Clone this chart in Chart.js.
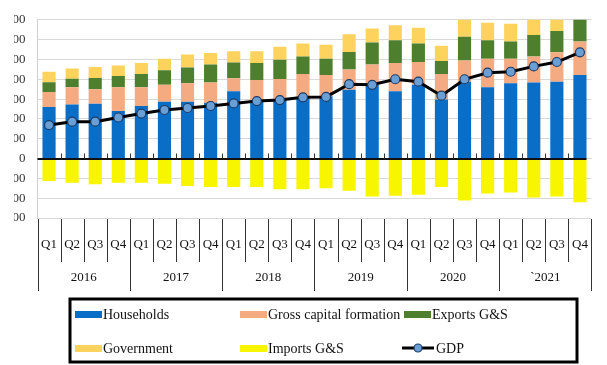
<!DOCTYPE html>
<html>
<head>
<meta charset="utf-8">
<script src="https://cdn.jsdelivr.net/npm/chart.js@4.4.1/dist/chart.umd.min.js"></script>
<style>
  html, body { margin: 0; padding: 0; background: #fff; overflow: hidden; }
  #clip { position: absolute; left: 14px; top: 0; width: 593px; height: 365px; overflow: hidden; }
  #c { position: absolute; left: -14px; top: 0; }
</style>
</head>
<body>
<div id="clip"><canvas id="c" width="607" height="365"></canvas></div>
<script>
// Quarterly contributions, 2016 Q1 – 2021 Q4
const quarters = ['Q1','Q2','Q3','Q4','Q1','Q2','Q3','Q4','Q1','Q2','Q3','Q4',
                  'Q1','Q2','Q3','Q4','Q1','Q2','Q3','Q4','Q1','Q2','Q3','Q4'];
const years = ['2016', '2017', '2018', '2019', '2020', '`2021'];

const households = [260, 273, 276, 240, 265, 286, 286, 281, 339, 295, 298, 311,
                    314, 347, 372, 339, 372, 298, 388, 360, 380, 384, 388, 421];
const capital    = [ 76,  87,  74, 120,  95,  86,  94, 103,  66, 101, 103, 115,
                    107, 102, 103, 143, 115, 128, 107, 143, 123, 131, 148, 170];
const exportsGS  = [ 49,  43,  56,  56,  66,  74,  79,  90,  80,  86,  97,  89,
                     82,  88, 111, 115,  94,  66, 119,  94,  88, 108, 107, 125];
const government = [ 53,  51,  56,  54,  56,  57,  66,  58,  56,  59,  66,  66,
                     71,  90,  70,  76,  79,  77,  95,  88,  89,  85,  80,  75];
const importsGS  = [-113, -122, -130, -122, -122, -127, -138, -143, -143, -143, -155, -155,
                    -150, -163, -192, -188, -183, -143, -212, -176, -171, -196, -192, -221];
const gdp        = [169, 186, 186, 207, 227, 245, 255, 265, 278, 290, 295, 309,
                    311, 375, 372, 400, 388, 317, 400, 433, 438, 465, 487, 536];

const serif = 'Liberation Serif, Times New Roman, serif';

// Category separators under the axis, zero line with its ticks, and the boxed legend
const decor = {
  id: 'decor',
  afterDraw(chart) {
    const { ctx, scales: { x, x2, y } } = chart;
    const n = chart.data.labels.length;
    const y0 = y.getPixelForValue(0);
    ctx.save();

    // zero line
    ctx.strokeStyle = '#111';
    ctx.lineWidth = 2;
    ctx.beginPath();
    ctx.moveTo(x.left, Math.round(y0));
    ctx.lineTo(x.right - 5, Math.round(y0));
    ctx.stroke();

    ctx.lineWidth = 1;
    ctx.strokeStyle = '#333';
    for (let i = 0; i <= n; i++) {
      let px;
      if (i === 0) px = x.left;
      else if (i === n) px = x.right;
      else px = (x.getPixelForValue(i - 1) + x.getPixelForValue(i)) / 2;
      const xx = Math.round(px) + 0.5;
      ctx.beginPath();
      ctx.moveTo(xx, y.bottom + 1);
      ctx.lineTo(xx, i % 4 === 0 ? x2.bottom - 2 : x.bottom + 4);
      ctx.stroke();
      if (i > 0 && i < n) {
        ctx.beginPath();
        ctx.moveTo(xx, y0 - 5);
        ctx.lineTo(xx, y0);
        ctx.stroke();
      }
    }

    // legend
    ctx.lineWidth = 3;
    ctx.strokeStyle = '#000';
    ctx.strokeRect(70, 299, 507, 63);
    const slots = [[75, 314], [240, 314], [404, 314], [75, 348], [240, 348], [402, 348]];
    ctx.font = '14px ' + serif;
    ctx.textBaseline = 'middle';
    ctx.fillStyle = '#111';
    chart.data.datasets.forEach((ds, i) => {
      const [lx, ly] = slots[i];
      if (ds.type === 'line') {
        ctx.strokeStyle = ds.borderColor;
        ctx.lineWidth = 3;
        ctx.beginPath();
        ctx.moveTo(lx, ly);
        ctx.lineTo(lx + 32, ly);
        ctx.stroke();
        ctx.beginPath();
        ctx.arc(lx + 16, ly, 4, 0, Math.PI * 2);
        ctx.fillStyle = ds.pointBackgroundColor;
        ctx.fill();
        ctx.lineWidth = 1.2;
        ctx.strokeStyle = ds.pointBorderColor;
        ctx.stroke();
        ctx.fillStyle = '#111';
        ctx.fillText(ds.label, lx + 34, ly + 1);
      } else {
        ctx.fillStyle = ds.backgroundColor;
        ctx.fillRect(lx, ly - 3, 27, 7);
        ctx.fillStyle = '#111';
        ctx.fillText(ds.label, lx + 28, ly + 1);
      }
    });
    ctx.restore();
  }
};

new Chart(document.getElementById('c'), {
  type: 'bar',
  data: {
    labels: quarters,
    datasets: [
      { label: 'Households', data: households, backgroundColor: '#0b6ec6', stack: 's', order: 1 },
      { label: 'Gross capital formation', data: capital, backgroundColor: '#f4ab82', stack: 's', order: 1 },
      { label: 'Exports G&S', data: exportsGS, backgroundColor: '#4d7f2e', stack: 's', order: 1 },
      { label: 'Government', data: government, backgroundColor: '#fdd35e', stack: 's', order: 1 },
      { label: 'Imports G&S', data: importsGS, backgroundColor: '#f7f500', stack: 's', order: 1 },
      { type: 'line', label: 'GDP', data: gdp, stack: 'gdp', order: 0,
        borderColor: '#000', borderWidth: 3, tension: 0,
        pointRadius: 4.5, pointBackgroundColor: '#6a9fd6', pointBorderColor: '#1d3d66', pointBorderWidth: 1.2 }
    ]
  },
  options: {
    responsive: false,
    animation: false,
    layout: { padding: { top: 15, right: 2, bottom: 72, left: 0 } },
    datasets: { bar: { barPercentage: 1, categoryPercentage: 0.57 } },
    plugins: { legend: { display: false }, tooltip: { enabled: false } },
    scales: {
      x: {
        stacked: true, offset: true, weight: 0,
        grid: { display: false, drawTicks: false }, border: { display: false },
        ticks: { font: { family: serif, size: 13 }, color: '#111', padding: 19, maxRotation: 0, autoSkip: false },
        afterFit(s) { s.height = 40; }
      },
      x2: {
        type: 'category', labels: years, position: 'bottom', offset: true, weight: 1,
        grid: { display: false, drawTicks: false }, border: { display: false },
        ticks: { font: { family: serif, size: 13 }, color: '#111', padding: 12, maxRotation: 0, autoSkip: false },
        afterFit(s) { s.height = 35; }
      },
      y: {
        stacked: true, min: -300, max: 700,
        ticks: { stepSize: 100, font: { family: serif, size: 13 }, color: '#333', padding: 12 },
        grid: { color: '#d9d9d9', drawTicks: false },
        border: { color: '#cfcfcf' },
        afterFit(s) { s.width = 37.5; }
      }
    }
  },
  plugins: [decor]
});
</script>
</body>
</html>
